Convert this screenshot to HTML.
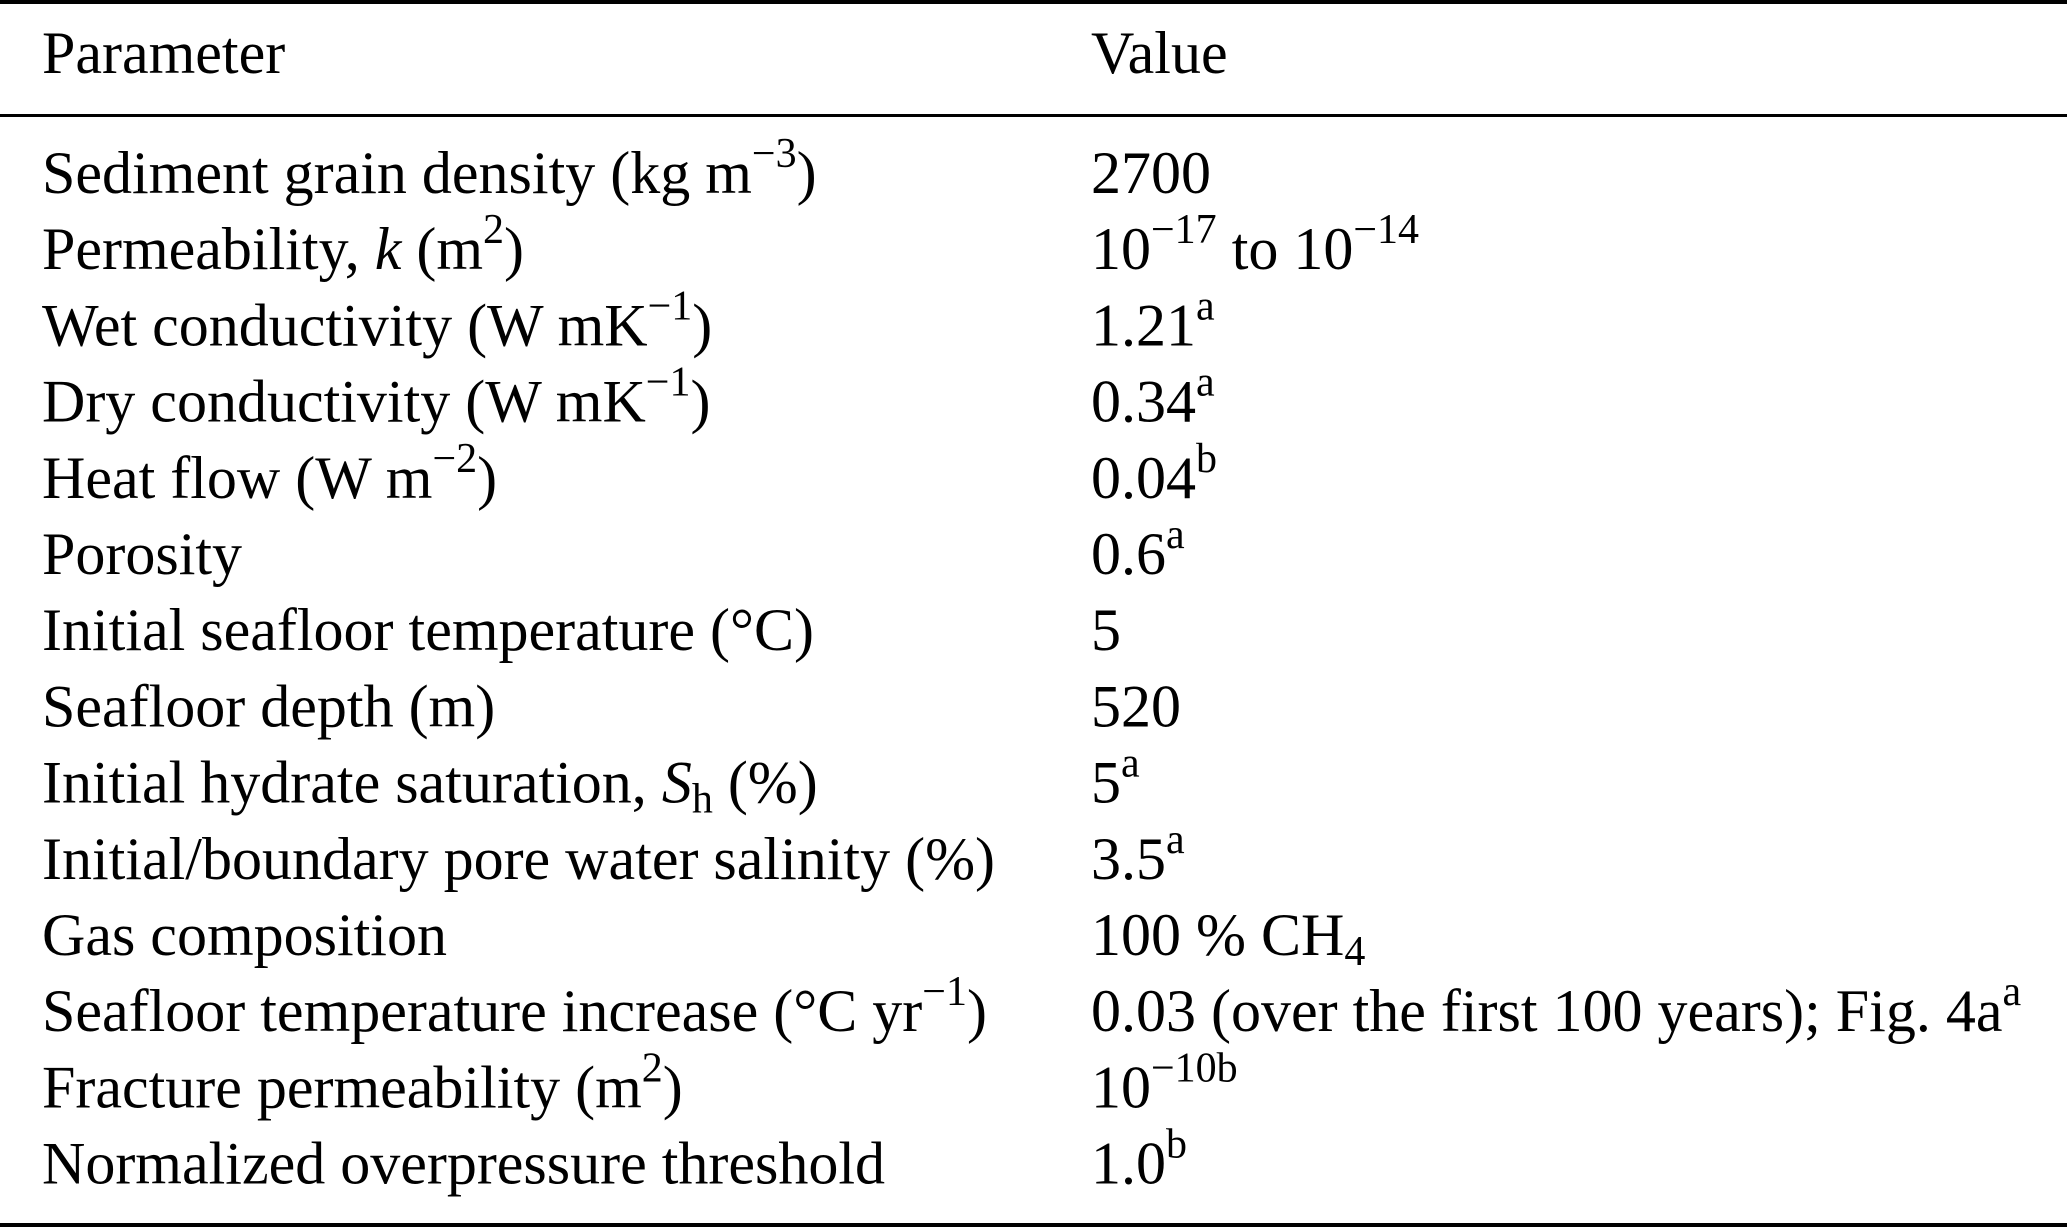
<!DOCTYPE html>
<html><head><meta charset="utf-8"><style>
html,body{margin:0;padding:0;background:#fff;}
svg{display:block;}
text{font-family:"Liberation Serif",serif;font-size:60px;fill:#000;}
.s{font-size:42px;}
</style></head><body>
<svg width="2067" height="1228" viewBox="0 0 2067 1228">
<rect x="0" y="0" width="2067" height="4" fill="#000"/>
<rect x="0" y="114" width="2067" height="3" fill="#000"/>
<rect x="0" y="1223" width="2067" height="4" fill="#000"/>
<text x="42" y="73">Parameter</text>
<text x="1091" y="73">Value</text>
<g id="rows"></g>
</svg>
<script>
const params=[
'Sediment grain density (kg m<tspan class="s" dy="-26">−3</tspan><tspan dy="26">)</tspan>',
'Permeability, <tspan font-style="italic">k</tspan> (m<tspan class="s" dy="-26">2</tspan><tspan dy="26">)</tspan>',
'Wet conductivity (W mK<tspan class="s" dy="-26">−1</tspan><tspan dy="26">)</tspan>',
'Dry conductivity (W mK<tspan class="s" dy="-26">−1</tspan><tspan dy="26">)</tspan>',
'Heat flow (W m<tspan class="s" dy="-26">−2</tspan><tspan dy="26">)</tspan>',
'Porosity',
'Initial seafloor temperature (°C)',
'Seafloor depth (m)',
'Initial hydrate saturation, <tspan font-style="italic">S</tspan><tspan class="s" dy="10">h</tspan><tspan dy="-10"> (%)</tspan>',
'Initial/boundary pore water salinity (%)',
'Gas composition',
'Seafloor temperature increase (°C yr<tspan class="s" dy="-26">−1</tspan><tspan dy="26">)</tspan>',
'Fracture permeability (m<tspan class="s" dy="-26">2</tspan><tspan dy="26">)</tspan>',
'Normalized overpressure threshold'];
const values=[
'2700',
'10<tspan class="s" dy="-26">−17</tspan><tspan dy="26"> to 10</tspan><tspan class="s" dy="-26">−14</tspan>',
'1.21<tspan class="s" dy="-26">a</tspan>',
'0.34<tspan class="s" dy="-26">a</tspan>',
'0.04<tspan class="s" dy="-26">b</tspan>',
'0.6<tspan class="s" dy="-26">a</tspan>',
'5',
'520',
'5<tspan class="s" dy="-26">a</tspan>',
'3.5<tspan class="s" dy="-26">a</tspan>',
'100 % CH<tspan class="s" dy="10">4</tspan>',
'0.03 (over the first 100 years); Fig. 4a<tspan class="s" dy="-26">a</tspan>',
'10<tspan class="s" dy="-26">−10b</tspan>',
'1.0<tspan class="s" dy="-26">b</tspan>'];
const g=document.getElementById('rows');
const NS='http://www.w3.org/2000/svg';
for(let i=0;i<params.length;i++){
  const y=193+i*76.2;
  const t1=document.createElementNS(NS,'text');
  t1.setAttribute('x','42');t1.setAttribute('y',y);
  
  
  t1.innerHTML=params[i];g.appendChild(t1);
  const t2=document.createElementNS(NS,'text');
  t2.setAttribute('x','1091');t2.setAttribute('y',y);
  
  
  t2.innerHTML=values[i];g.appendChild(t2);
}
</script>
</body></html>
